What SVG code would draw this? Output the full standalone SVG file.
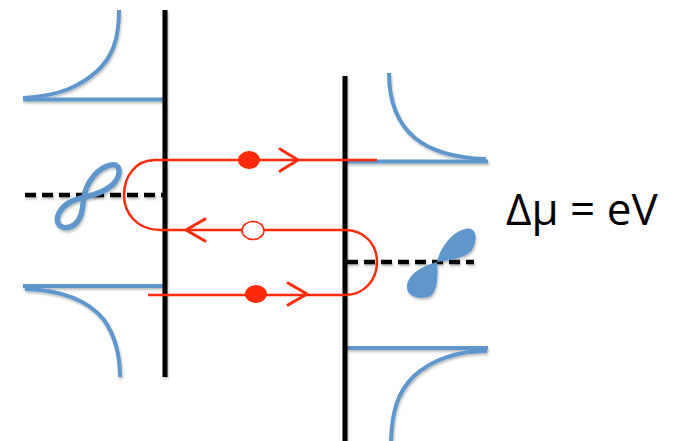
<svg xmlns="http://www.w3.org/2000/svg" width="675" height="441" viewBox="0 0 675 441">
  <style>
    .wall { stroke: #000; stroke-width: 5; fill: none; }
    .band { stroke: #5f97cc; stroke-width: 4; fill: none; stroke-linecap: butt; }
    .level { stroke: #000; stroke-width: 4.5; stroke-dasharray: 11 6; fill: none; }
    .orb { stroke: #5f97cc; stroke-width: 5.5; fill: none; stroke-linejoin: round; }
    .orbfill { fill: #5f97cc; stroke: none; }
    .path { stroke: #ff2a0a; stroke-width: 2.5; fill: none; }
    .arrow { stroke: #ff2a0a; stroke-width: 3; fill: none; stroke-linecap: round; stroke-linejoin: round; }
    .dot { fill: #ff2a0a; }
    .hole { fill: #fff; stroke: #ff2a0a; stroke-width: 1.6; }
    .label { font-family: "Open Sans", "Noto Sans", "DejaVu Sans", sans-serif; font-size: 44px; fill: #000; }
  </style>
  <defs>
    <filter id="shadow" filterUnits="userSpaceOnUse" x="0" y="0" width="675" height="441">
      <feDropShadow dx="1" dy="2" stdDeviation="1.2" flood-color="#000" flood-opacity="0.25"/>
    </filter>
  </defs>

  <!-- left electrode: density of states -->
  <g id="left-dos" filter="url(#shadow)">
    <path class="band" d="M 119 10 C 119 40 112 58 96 72 C 80 86 60 96 23 98"/>
    <line class="band" x1="23" y1="99.5" x2="165" y2="99.5"/>
    <line class="band" x1="23" y1="286" x2="165" y2="286"/>
    <path class="band" d="M 25 289 C 60 290 88 300 104 320 C 116 337 120 355 120 377"/>
  </g>

  <!-- right electrode: density of states -->
  <g id="right-dos" filter="url(#shadow)">
    <path class="band" d="M 389 73 C 389 100 396 122 415 138 C 432 152 455 158 486 159"/>
    <line class="band" x1="345" y1="161.5" x2="488" y2="161.5"/>
    <line class="band" x1="347" y1="348" x2="488" y2="348"/>
    <path class="band" d="M 487 351 C 455 351 432 360 414 376 C 398 392 392 410 391 441"/>
  </g>

  <!-- chemical potentials -->
  <g id="left-level" filter="url(#shadow)">
    <line class="level" x1="25" y1="195" x2="165" y2="195"/>
  </g>
  <g id="right-level" filter="url(#shadow)">
    <line class="level" x1="347" y1="262" x2="474" y2="262"/>
  </g>

  <!-- bound states -->
  <g id="left-state" filter="url(#shadow)">
    <path class="orb" d="M 84 197 C 86 183 98 167 111 165 C 121 163 121 174 115 182 C 108 191 94 195 78 199 C 64 203 55 214 58 223 C 62 231 76 229 81 215 C 83 208 83 203 84 197 Z"/>
  </g>
  <g id="right-state" filter="url(#shadow)">
    <path class="orbfill" d="M 437 262 C 440 248 452 232 465 229 C 477 226 478 240 472 250 C 466 258 451 260 437 262 C 421 266 406 276 407 288 C 408 299 425 300 432 295 C 438 288 438 273 437 262 Z"/>
  </g>

  <!-- tunnel barriers -->
  <g id="left-wall" filter="url(#shadow)">
    <line class="wall" x1="165" y1="10" x2="165" y2="377"/>
  </g>
  <g id="right-wall" filter="url(#shadow)">
    <line class="wall" x1="345" y1="76" x2="345" y2="441"/>
  </g>

  <!-- Andreev reflection trajectory -->
  <g id="connectors">
    <path class="path" d="M 377 160 H 155 C 135 160 124 177 124 195 C 124 213 137 230 160 230 H 345 C 364 230 377 244 377 262 C 377 280 364 295 345 295 H 148"/>
    <path class="arrow" d="M 280 149 L 298 160 L 280 171"/>
    <path class="arrow" d="M 205 219 L 186 230 L 205 241"/>
    <path class="arrow" d="M 288 283 L 307 294 L 288 305"/>
  </g>

  <!-- carriers -->
  <g id="electron-top">
    <ellipse class="dot" cx="249" cy="160" rx="11" ry="9"/>
  </g>
  <g id="hole-middle">
    <ellipse class="hole" cx="253" cy="230.5" rx="11" ry="9"/>
  </g>
  <g id="electron-bottom">
    <ellipse class="dot" cx="256" cy="294" rx="11" ry="9"/>
  </g>

  <g id="bias-label">
    <text class="label" x="506" y="225">Δμ = eV</text>
  </g>
</svg>
